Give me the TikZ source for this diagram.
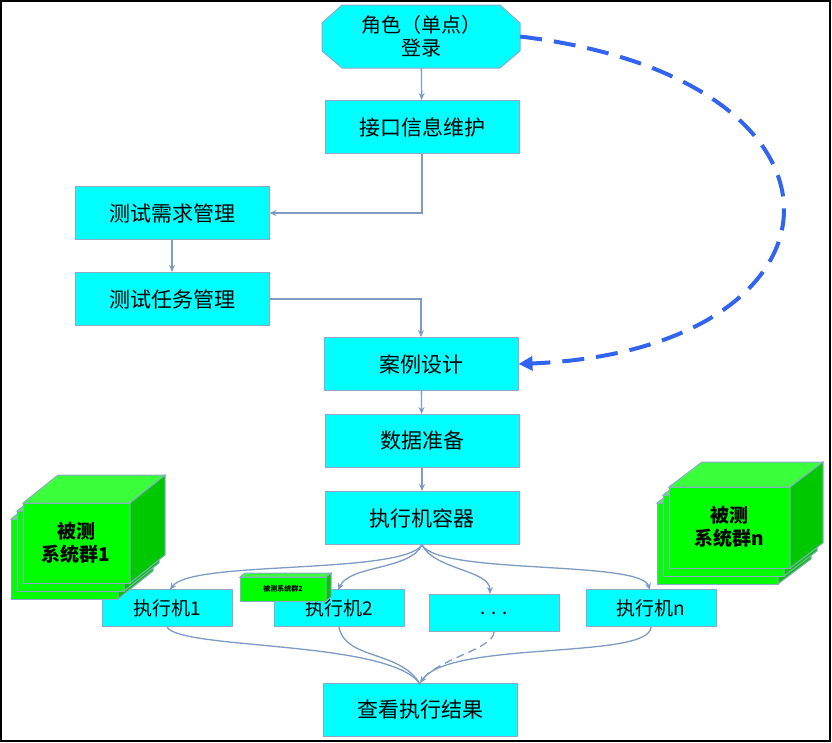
\documentclass[tikz,border=0pt]{standalone}
\usepackage{fontspec}
\setmainfont{Noto Sans CJK SC}
\usetikzlibrary{shapes.geometric,arrows.meta}
\definecolor{cy}{RGB}{0,255,255}
\definecolor{bd}{RGB}{140,170,200}
\definecolor{ln}{RGB}{125,155,195}
\definecolor{gf}{RGB}{0,255,0}
\definecolor{gt}{RGB}{60,255,60}
\definecolor{gs}{RGB}{0,200,0}
\definecolor{db}{RGB}{50,100,240}
\tikzset{
 box/.style={draw=bd,fill=cy,line width=1pt,minimum width=194pt,minimum height=53pt,font=\fontsize{21}{25}\selectfont,inner sep=0pt},
 ex/.style={box,minimum width=130pt,minimum height=37pt,font=\fontsize{19}{22}\selectfont},
 con/.style={draw=ln,line width=1.3pt,-{Stealth[length=7pt,width=6pt]}},
}
\newcommand{\cube}[6]{% x y w h dx dy
 \fill[gf,draw=bd,line width=1pt] (#1,#2) rectangle ++(#3,#4);
 \fill[gt,draw=bd,line width=1pt] (#1,#2) -- ++(#5,-#6) -- ++(#3,0) -- ++(-#5,#6) -- cycle;
 \fill[gs,draw=bd,line width=1pt] (#1+#3,#2) -- ++(#5,-#6) -- ++(0,#4) -- ++(-#5,#6) -- cycle;
}
\begin{document}
\begin{tikzpicture}[x=1pt,y=-1pt]
\useasboundingbox (0,0) rectangle (832,742);
\draw[line width=2pt] (1,1) rectangle (830,741);
\path[draw=bd,fill=cy,line width=1pt] (342,5) -- (500,5) -- (520,23) -- (520,51) -- (500,68) -- (342,68) -- (322,51) -- (322,23) -- cycle;
\node[font=\fontsize{20}{23}\selectfont,align=center,minimum width=198pt,minimum height=63pt,inner sep=0pt] (login) at (421,36.5) {角色（单点）\\登录};
\node[box] (jk) at (422,127) {接口信息维护};
\node[box] (xq) at (172,213) {测试需求管理};
\node[box] (rw) at (172,299) {测试任务管理};
\node[box] (al) at (421,364) {案例设计};
\node[box] (sj) at (422,441) {数据准备};
\node[box] (rq) at (422,518) {执行机容器};
\node[ex] (e1) at (167,608) {执行机1};
\node[ex] (e2) at (339,608) {执行机2};
\node[ex] (ed) at (494,613) {. . .};
\node[ex] (en) at (651,608) {执行机n};
\node[box] (ck) at (420,710) {查看执行结果};
% cubes
\cube{11}{519}{107}{80}{35}{28}
\cube{17}{511}{107}{80}{35}{28}
\cube{23}{503}{107}{80}{35}{28}
\node[font=\bfseries\fontsize{19}{23}\selectfont,align=center] (c1) at (76,543) {被测\\系统群1};
\cube{657}{503}{121}{81}{33}{25}
\cube{663}{495}{121}{81}{33}{25}
\cube{669}{487}{121}{81}{33}{25}
\node[font=\bfseries\fontsize{19}{23}\selectfont,align=center] (cn) at (729,527) {被测\\系统群n};
\cube{240}{577}{86}{24}{5}{4}
\node[font=\bfseries\fontsize{7}{8}\selectfont] (c2) at (283,589) {被测系统群2};
% connectors
\draw[con] (login) -- (jk);
\draw[con] (jk.south) |- (xq.east);
\draw[con] (xq) -- (rw);
\draw[con] (rw.east) -| (al.north);
\draw[con] (al) -- (sj);
\draw[con] (sj) -- (rq);
\draw[con] (rq.south) .. controls (400,575) and (190,560) .. (170,590);
\draw[con] (rq.south) .. controls (410,570) and (350,565) .. (338,590);
\draw[con] (rq.south) .. controls (435,570) and (490,570) .. (490,594);
\draw[con] (rq.south) .. controls (440,575) and (640,560) .. (650,590);
\draw[con,-] (e1.south) .. controls (180,650) and (390,640) .. (420,684);
\draw[con,-] (e2.south) .. controls (345,660) and (400,650) .. (420,684);
\draw[con,-,dash pattern=on 8pt off 5pt] (ed.south) .. controls (494,650) and (430,660) .. (420,684);
\draw[con] (en.south) .. controls (650,660) and (450,640) .. (ck.north);
% dashed arc
\draw[db,line width=4pt,dash pattern=on 22pt off 12pt,-{Triangle[length=14pt,width=14pt]}]
 (login.east) .. controls (880,80) and (860,350) .. (al.east);
\end{tikzpicture}
\end{document}
